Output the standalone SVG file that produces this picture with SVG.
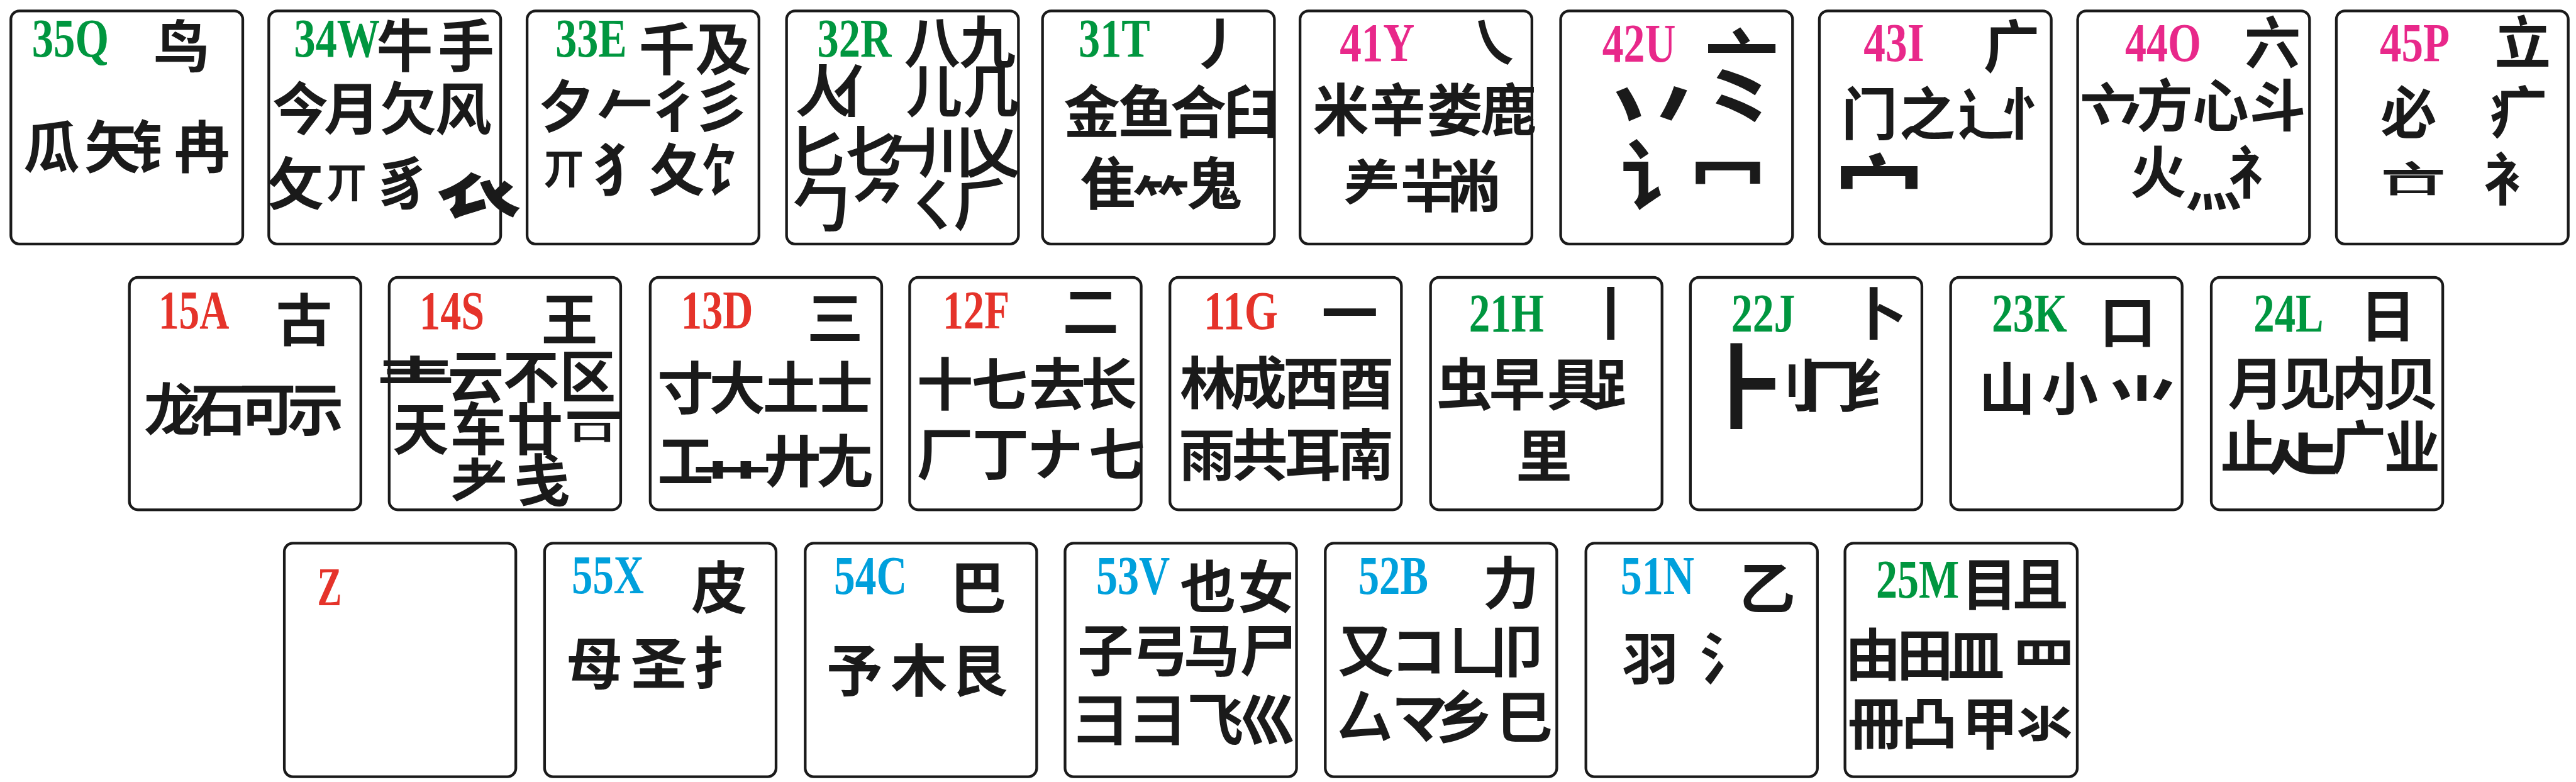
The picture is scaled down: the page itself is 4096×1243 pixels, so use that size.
<svg xmlns="http://www.w3.org/2000/svg" width="4096" height="1243" viewBox="0 0 4096 1243">
<style>
.k{fill:#fff;stroke:#1a1a1a;stroke-width:7}
.l{font-family:"Liberation Serif","Times New Roman",serif;font-weight:bold;font-size:140px}
.g{fill:#00963f}.p{fill:#e8288a}.r{fill:#e5332a}.b{fill:#00a0dc}
.c{font-family:"Noto Sans CJK SC","Noto Sans CJK JP","Noto Sans CJK TC",sans-serif;font-weight:bold;font-size:145px;text-anchor:middle;fill:#1a1a1a}
</style>
<rect width="4096" height="1243" fill="#fff"/>
<g transform="scale(0.61761)">
<g id="key-35Q"><rect class="k" x="28" y="28" width="597" height="600" rx="22"/>
<text class="l g" x="82" y="145" textLength="198" lengthAdjust="spacingAndGlyphs">35Q</text>
<text class="c" x="467 133 290 410 520" y="173 433 433 433 433">鸟瓜矢钅冉</text></g>
<g id="key-34W"><rect class="k" x="692" y="28" width="597" height="600" rx="22"/>
<text class="l g" x="757" y="145" textLength="221" lengthAdjust="spacingAndGlyphs">34W</text>
<text class="c" x="1042 1200 773 906 1051 1193 761 893 1038 1232" y="172 172 334 334 334 334 527 509 527 544">牛手今月欠风攵<tspan font-size="105">丌</tspan>豸<tspan font-size="220">𧘇</tspan></text></g>
<g id="key-33E"><rect class="k" x="1357" y="28" width="597" height="600" rx="22"/>
<text class="l g" x="1430" y="145" textLength="184" lengthAdjust="spacingAndGlyphs">33E</text>
<text class="c" x="1717 1862 1458 1610 1736 1856 1452 1600 1742 1875" y="179 179 327 327 327 327 472 490 490 490">千及夕𠂉彳彡<tspan font-size="105">丌</tspan>犭夂饣</text></g>
<g id="key-32R"><rect class="k" x="2025" y="28" width="597" height="600" rx="22"/>
<text class="l g" x="2104" y="145" textLength="191" lengthAdjust="spacingAndGlyphs">32R</text>
<text class="c" x="2400 2542 2120 2218 2405 2552 2104 2250 2335 2437 2555 2114 2266 2400 2527" y="162 162 289 289 289 289 444 444 444 444 444 581 581 581 581">八九人亻儿几匕𠤎𠂉川乂勹⺈ㄑ⺁</text></g>
<g id="key-31T"><rect class="k" x="2684" y="28" width="597" height="600" rx="22"/>
<text class="l g" x="2777" y="145" textLength="184" lengthAdjust="spacingAndGlyphs">31T</text>
<text class="c" x="3135 2811 2951 3085 3221 2853 2989 3126" y="167 342 342 342 342 526 574 526">丿金鱼合臼隹⺮鬼</text></g>
<g id="key-41Y"><rect class="k" x="3347" y="28" width="597" height="600" rx="22"/>
<text class="l p" x="3449" y="157" textLength="193" lengthAdjust="spacingAndGlyphs">41Y</text>
<text class="c" x="3845 3452 3598 3745 3884 3532 3678 3795" y="163 336 336 336 336 532 532 532">㇏米辛娄鹿⺶⺸㡀</text></g>
<g id="key-42U"><rect class="k" x="4018" y="28" width="597" height="600" rx="22"/>
<text class="l p" x="4125" y="158" textLength="189" lengthAdjust="spacingAndGlyphs">42U</text>
<text class="c" x="4484" y="232" style="font-size:190px">亠</text>
<text class="c" x="4252" y="371" style="font-size:260px">丷</text>
<text class="c" x="4477" y="371" style="font-size:260px">⺀</text>
<text class="c" x="4273" y="525" style="font-size:200px">讠</text>
<text class="c" x="4448" y="529" style="font-size:195px">冖</text></g>
<g id="key-43I"><rect class="k" x="4684" y="28" width="597" height="600" rx="22"/>
<text class="l p" x="4798" y="157" textLength="156" lengthAdjust="spacingAndGlyphs">43I</text>
<text class="c" x="5179 4813 4962 5113 5228 4838" y="173 346 346 346 346 590">广门之辶忄<tspan font-size="230">宀</tspan></text></g>
<g id="key-44O"><rect class="k" x="5349" y="28" width="597" height="600" rx="22"/>
<text class="l p" x="5471" y="157" textLength="196" lengthAdjust="spacingAndGlyphs">44O</text>
<text class="c" x="5851 5427 5448 5573 5717 5864 5556 5699 5810" y="164 334 360 325 325 325 497 530 497">六亠<tspan font-size="170">丷</tspan>方心斗火灬礻</text></g>
<g id="key-45P"><rect class="k" x="6015" y="28" width="597" height="600" rx="22"/>
<text class="l p" x="6127" y="157" textLength="180" lengthAdjust="spacingAndGlyphs">45P</text>
<text class="c" x="6495 6201 6483 6467" y="163 344 344 515">立必疒衤</text>
<text class="c" transform="translate(6213,500) scale(1.15,0.7)" x="0" y="0">亠</text>
<text class="c" transform="translate(6211,497) scale(1,0.42)" x="0" y="0">口</text></g>
<g id="key-15A"><rect class="k" x="333" y="714" width="596" height="598" rx="22"/>
<text class="l r" x="408" y="846" textLength="182" lengthAdjust="spacingAndGlyphs">15A</text>
<text class="c" x="783 443 563 689 812" y="877 1108 1108 1108 1108">古龙石可示</text></g>
<g id="key-14S"><rect class="k" x="1002" y="714" width="596" height="598" rx="22"/>
<text class="l r" x="1080" y="847" textLength="167" lengthAdjust="spacingAndGlyphs">14S</text>
<text class="c" x="1466 1225 1367 1513 1083 1232 1377 1528 1234 1395" y="876 1023 1023 1023 1157 1157 1157 1125 1290 1290">王云不区天车廿一耂戋</text>
<text class="c" transform="translate(1070,1040) scale(1.4,1)" x="0" y="0">龶</text>
<text class="c" transform="translate(1525,1133) scale(0.8,0.4)" x="0" y="0">口</text></g>
<g id="key-13D"><rect class="k" x="1674" y="714" width="596" height="598" rx="22"/>
<text class="l r" x="1753" y="846" textLength="186" lengthAdjust="spacingAndGlyphs">13D</text>
<text class="c" x="2150 1765 1898 2036 2175 1765 2040 2175" y="872 1052 1052 1052 1052 1240 1240 1240">三寸大土士工廾尢</text>
<text class="c" transform="translate(1885,1280) scale(1.45,0.8)" x="0" y="0">艹</text></g>
<g id="key-12F"><rect class="k" x="2342" y="714" width="596" height="598" rx="22"/>
<text class="l r" x="2427" y="846" textLength="172" lengthAdjust="spacingAndGlyphs">12F</text>
<text class="c" x="2808 2433 2573 2722 2855 2433 2576 2716 2875" y="855 1042 1042 1042 1042 1222 1222 1222 1222">二十七去长厂丁ナ七</text></g>
<g id="key-11G"><rect class="k" x="3012" y="714" width="596" height="598" rx="22"/>
<text class="l r" x="3099" y="847" textLength="191" lengthAdjust="spacingAndGlyphs">11G</text>
<text class="c" x="3475 3110 3240 3376 3516 3107 3243 3380 3516" y="860 1039 1039 1039 1039 1224 1224 1224 1224">一林成西酉雨共耳南</text></g>
<g id="key-21H"><rect class="k" x="3683" y="714" width="596" height="598" rx="22"/>
<text class="l g" x="3782" y="853" textLength="193" lengthAdjust="spacingAndGlyphs">21H</text>
<text class="c" x="4147 3770 3906 4055 4176 3975" y="862 1043 1043 1043 1043 1227">丨虫早具⻊里</text></g>
<g id="key-22J"><rect class="k" x="4352" y="714" width="596" height="598" rx="22"/>
<text class="l g" x="4457" y="853" textLength="165" lengthAdjust="spacingAndGlyphs">22J</text>
<text class="c" x="4837 4490 4606 4717 4834" y="861 1083 1046 1046 1046">卜<tspan font-size="236">⺊</tspan>刂冂纟</text></g>
<g id="key-23K"><rect class="k" x="5022" y="714" width="596" height="598" rx="22"/>
<text class="l g" x="5128" y="853" textLength="194" lengthAdjust="spacingAndGlyphs">23K</text>
<text class="c" x="5478 5167 5329 5515" y="882 1054 1054 1122">口山小<tspan font-size="190">⺌</tspan></text></g>
<g id="key-24L"><rect class="k" x="5693" y="714" width="596" height="598" rx="22"/>
<text class="l g" x="5802" y="853" textLength="180" lengthAdjust="spacingAndGlyphs">24L</text>
<text class="c" x="6148 5808 5941 6074 6207 5789 5928 6071 6210" y="866 1041 1041 1041 1041 1204 1205 1204 1204">日月见内贝止<tspan font-size="195">龰</tspan>广业</text></g>
<g id="key-Z"><rect class="k" x="732" y="1398" width="596" height="601" rx="22"/>
<text class="l r" x="817" y="1558" textLength="63" lengthAdjust="spacingAndGlyphs">Z</text></g>
<g id="key-55X"><rect class="k" x="1402" y="1398" width="596" height="601" rx="22"/>
<text class="l b" x="1472" y="1527" textLength="186" lengthAdjust="spacingAndGlyphs">55X</text>
<text class="c" x="1852 1530 1696 1855" y="1565 1762 1762 1762">皮母圣扌</text></g>
<g id="key-54C"><rect class="k" x="2073" y="1398" width="596" height="601" rx="22"/>
<text class="l b" x="2147" y="1528" textLength="188" lengthAdjust="spacingAndGlyphs">54C</text>
<text class="c" x="2518 2200 2366 2521" y="1566 1779 1779 1779">巴予木艮</text></g>
<g id="key-53V"><rect class="k" x="2742" y="1398" width="596" height="601" rx="22"/>
<text class="l b" x="2822" y="1528" textLength="190" lengthAdjust="spacingAndGlyphs">53V</text>
<text class="c" x="3110 3259 2846 2986 3119 3265 2834 2982 3129 3265" y="1564 1564 1727 1727 1727 1727 1905 1905 1905 1905">也女子弓马尸彐⺕飞巛</text></g>
<g id="key-52B"><rect class="k" x="3412" y="1398" width="596" height="601" rx="22"/>
<text class="l b" x="3497" y="1528" textLength="180" lengthAdjust="spacingAndGlyphs">52B</text>
<text class="c" x="3890 3516 3652 3805 3922 3513 3655 3770 3925" y="1554 1730 1730 1730 1730 1899 1899 1899 1899">力又コ凵卩厶マ乡巳</text></g>
<g id="key-51N"><rect class="k" x="4083" y="1398" width="596" height="601" rx="22"/>
<text class="l b" x="4172" y="1528" textLength="190" lengthAdjust="spacingAndGlyphs">51N</text>
<text class="c" x="4550 4249 4449" y="1568 1749 1749">乙羽氵</text></g>
<g id="key-25M"><rect class="k" x="4750" y="1398" width="598" height="601" rx="22"/>
<text class="l g" x="4830" y="1538" textLength="214" lengthAdjust="spacingAndGlyphs">25M</text>
<text class="c" x="5122 5253 4822 4956 5088 5262 4830 4967 5123 5264" y="1558 1558 1739 1739 1739 1780 1915 1915 1915 1915">目且由田皿<tspan font-size="165">罒</tspan>冊凸甲氺</text></g>
</g>
</svg>
